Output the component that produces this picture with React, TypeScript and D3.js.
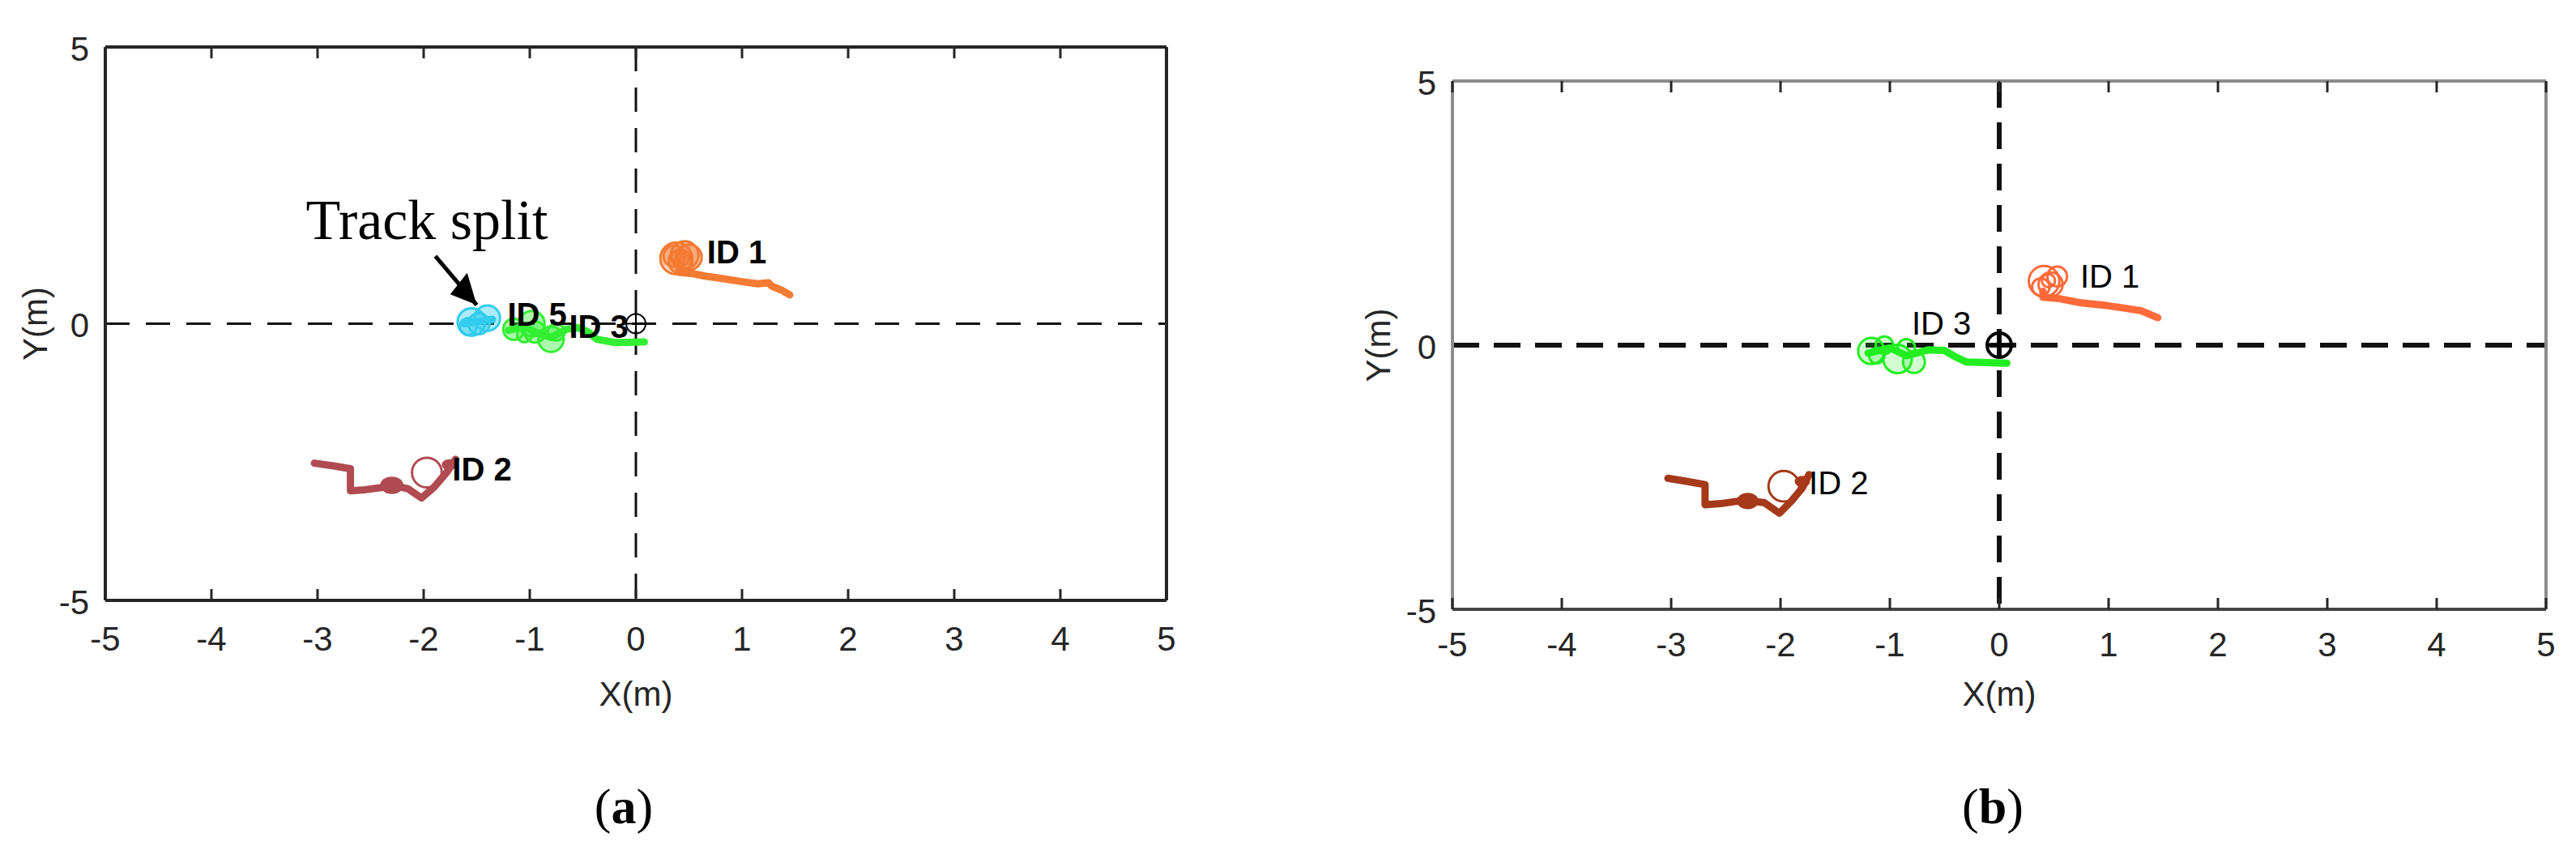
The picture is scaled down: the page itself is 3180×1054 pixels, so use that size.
import React, { useEffect } from "react";
import * as d3 from "d3";

// ---------- data (metres) ----------
const xTicks = [-5, -4, -3, -2, -1, 0, 1, 2, 3, 4, 5];
const yTicks = [-5, 0, 5];

// Panel (a)
const a_id1Path: [number, number][] = [[0.38, 1.12], [0.42, 1.02], [0.40, 0.93], [0.55, 0.90], [0.65, 0.86], [0.80, 0.82], [1.00, 0.76], [1.15, 0.72], [1.25, 0.74], [1.28, 0.68], [1.38, 0.60], [1.45, 0.52]];
const a_id1Circles: [number, number, number][] = [[0.38, 1.18, 0.15], [0.46, 1.24, 0.13], [0.42, 1.12, 0.11], [0.50, 1.20, 0.12], [0.36, 1.22, 0.1], [0.44, 1.18, 0.06]];
const a_id2Path: [number, number][] = [[-3.03, -2.52], [-2.85, -2.57], [-2.69, -2.62], [-2.69, -3.02], [-2.55, -3.0], [-2.40, -2.96], [-2.30, -2.92], [-2.15, -2.98], [-2.02, -3.15], [-1.90, -2.95], [-1.78, -2.68], [-1.70, -2.45]];
const a_id2Circles: [number, number, number][] = [[-1.97, -2.69, 0.14]];
const a_id2Blobs: [number, number, number][] = [[-2.30, -2.92, 0.11], [-1.76, -2.55, 0.07]];
const a_id3Path: [number, number][] = [[-1.20, -0.12], [-1.05, -0.05], [-0.95, -0.15], [-0.80, -0.25], [-0.65, -0.10], [-0.55, -0.07], [-0.45, -0.15], [-0.37, -0.28], [-0.20, -0.34], [0.08, -0.33]];
const a_id3Circles: [number, number, number][] = [[-1.15, -0.10, 0.1], [-0.98, 0.0, 0.12], [-0.95, -0.15, 0.1], [-0.80, -0.28, 0.12], [-0.75, -0.15, 0.08], [-1.05, -0.2, 0.07]];
const a_id5Path: [number, number][] = [[-1.62, 0.0], [-1.35, 0.08]];
const a_id5Circles: [number, number, number][] = [[-1.55, 0.03, 0.13], [-1.40, 0.10, 0.12], [-1.48, 0.0, 0.1], [-1.58, -0.05, 0.08]];

// Panel (b)
const b_id1Path: [number, number][] = [[0.40, 1.02], [0.40, 0.91], [0.55, 0.88], [0.75, 0.80], [0.98, 0.75], [1.15, 0.70], [1.30, 0.65], [1.45, 0.52]];
const b_id1Circles: [number, number, number][] = [[0.41, 1.21, 0.14], [0.53, 1.30, 0.09], [0.47, 1.15, 0.11], [0.38, 1.10, 0.08], [0.45, 1.22, 0.06]];
const b_id2Path: [number, number][] = [[-3.03, -2.52], [-2.85, -2.58], [-2.69, -2.64], [-2.69, -3.02], [-2.55, -3.0], [-2.38, -2.95], [-2.30, -2.95], [-2.15, -2.98], [-2.01, -3.18], [-1.90, -2.95], [-1.80, -2.70], [-1.74, -2.45]];
const b_id2Circles: [number, number, number][] = [[-1.97, -2.67, 0.14]];
const b_id2Blobs: [number, number, number][] = [[-2.30, -2.95, 0.1], [-1.80, -2.58, 0.07]];
const b_id3Path: [number, number][] = [[-1.20, -0.15], [-1.00, -0.05], [-0.85, -0.20], [-0.65, -0.09], [-0.50, -0.10], [-0.41, -0.21], [-0.30, -0.32], [0.07, -0.34]];
const b_id3Circles: [number, number, number][] = [[-1.17, -0.11, 0.12], [-1.05, 0.0, 0.08], [-0.93, -0.26, 0.13], [-0.78, -0.32, 0.1], [-0.85, -0.05, 0.08], [-1.12, -0.2, 0.07]];

// annotation (panel a, data coords)
const splitText: [number, number] = [-3.11, 1.53];
const arrowTail: [number, number] = [-1.89, 1.22];
const arrowTip: [number, number] = [-1.50, 0.34];
const arrowHead: [number, number][] = [[-1.75, 0.53], [-1.59, 0.92], [-1.50, 0.34]];

type Track = {
  path: [number, number][];
  circles: [number, number, number][];
  blobs?: [number, number, number][];
  color: string;
  label: string;
  labelAt: [number, number];
  openCircles?: boolean;
};

type PanelCfg = {
  left: number; right: number; top: number; bottom: number;
  tracks: Track[];
  bold: boolean;
  fillOp: number;
  frameColor: string;
  bottomColor: string;
  dash: string;
  dashW: number;
  originR: number;
  originW: number;
  tickLabelY: number;
  xLabelY: number;
  yLabelX: number;
  caption: string;
  captionX: number;
};

const FONT = "'Liberation Sans', Arial, Helvetica, sans-serif";

function Panel({ cfg, extra }: { cfg: PanelCfg; extra?: (x: any, y: any) => React.ReactNode }) {
  const x = d3.scaleLinear().domain([-5, 5]).range([cfg.left, cfg.right]);
  const y = d3.scaleLinear().domain([-5, 5]).range([cfg.bottom, cfg.top]);
  const line = d3.line<[number, number]>().x(d => x(d[0])).y(d => y(d[1])).curve(d3.curveLinear);
  const unit = x(1) - x(0);
  return (
    <g>
      {/* quadrant dashed lines */}
      <line x1={x(-5)} x2={x(5)} y1={y(0)} y2={y(0)} stroke="#111" strokeWidth={cfg.dashW} strokeDasharray={cfg.dash} />
      <line x1={x(0)} x2={x(0)} y1={y(5)} y2={y(-5)} stroke="#111" strokeWidth={cfg.dashW} strokeDasharray={cfg.dash} />
      {/* tracks */}
      {cfg.tracks.map((t, i) => (
        <g key={i}>
          <path d={line(t.path) || ""} fill="none" stroke={t.color} strokeWidth={9} strokeLinejoin="round" strokeLinecap="round" />
          {(t.blobs || []).map((c, j) => (
            <ellipse key={"b" + j} cx={x(c[0])} cy={y(c[1])} rx={c[2] * unit} ry={c[2] * unit * 0.75} fill={t.color} />
          ))}
          {t.circles.map((c, j) => (
            <circle key={j} cx={x(c[0])} cy={y(c[1])} r={c[2] * unit} fill={t.openCircles ? "none" : t.color} fillOpacity={cfg.fillOp} stroke={t.color} strokeWidth={3} />
          ))}
        </g>
      ))}
      {/* origin marker */}
      <g stroke="#000" strokeWidth={cfg.originW} fill="none">
        <circle cx={x(0)} cy={y(0)} r={cfg.originR} />
        <line x1={x(0) - cfg.originR} x2={x(0) + cfg.originR} y1={y(0)} y2={y(0)} />
        <line x1={x(0)} x2={x(0)} y1={y(0) - cfg.originR} y2={y(0) + cfg.originR} />
      </g>
      {/* labels */}
      {cfg.tracks.map((t, i) => (
        <text key={"l" + i} x={x(t.labelAt[0])} y={y(t.labelAt[1])} fontFamily={FONT} fontSize={40} fontWeight={cfg.bold ? "bold" : "normal"} fill="#000">{t.label}</text>
      ))}
      {/* frame */}
      <line x1={cfg.left} x2={cfg.right} y1={cfg.top} y2={cfg.top} stroke={cfg.frameColor} strokeWidth={4} />
      <line x1={cfg.left} x2={cfg.left} y1={cfg.top} y2={cfg.bottom} stroke={cfg.frameColor} strokeWidth={4} />
      <line x1={cfg.right} x2={cfg.right} y1={cfg.top} y2={cfg.bottom} stroke={cfg.frameColor} strokeWidth={4} />
      <line x1={cfg.left} x2={cfg.right} y1={cfg.bottom} y2={cfg.bottom} stroke={cfg.bottomColor} strokeWidth={4} />
      {/* ticks */}
      {xTicks.map(v => (
        <g key={"t" + v}>
          <line x1={x(v)} x2={x(v)} y1={cfg.top} y2={cfg.top + 14} stroke="#262626" strokeWidth={3} />
          <line x1={x(v)} x2={x(v)} y1={cfg.bottom} y2={cfg.bottom - 14} stroke="#262626" strokeWidth={3} />
          <text x={x(v)} y={cfg.tickLabelY} textAnchor="middle" dominantBaseline="central" fontFamily={FONT} fontSize={42} fill="#262626">{v}</text>
        </g>
      ))}
      {yTicks.map(v => (
        <text key={"y" + v} x={cfg.left - 20} y={y(v) + 2} textAnchor="end" dominantBaseline="central" fontFamily={FONT} fontSize={42} fill="#262626">{v}</text>
      ))}
      <text x={(cfg.left + cfg.right) / 2} y={cfg.xLabelY} textAnchor="middle" dominantBaseline="central" fontFamily={FONT} fontSize={42} fill="#262626">X(m)</text>
      <text transform={`translate(${cfg.yLabelX},${y(0)}) rotate(-90)`} textAnchor="middle" dominantBaseline="central" fontFamily={FONT} fontSize={42} fill="#262626">Y(m)</text>
      <text x={cfg.captionX} y={995} textAnchor="middle" dominantBaseline="central" fontFamily="'Liberation Serif', 'Times New Roman', serif" fontSize={62} fill="#000">
        (<tspan fontWeight="bold">{cfg.caption}</tspan>)
      </text>
      {extra && extra(x, y)}
    </g>
  );
}

const panelA: PanelCfg = {
  left: 130, right: 1440, top: 58, bottom: 741,
  tracks: [
    { path: a_id1Path, circles: a_id1Circles, color: "#F37B33", label: "ID 1", labelAt: [0.67, 1.09] },
    { path: a_id2Path, circles: a_id2Circles, blobs: a_id2Blobs, color: "#B04B52", label: "ID 2", labelAt: [-1.73, -2.83], openCircles: true },
    { path: a_id5Path, circles: a_id5Circles, color: "#33CCEE", label: "ID 5", labelAt: [-1.21, -0.04] },
    { path: a_id3Path, circles: a_id3Circles, color: "#33EE33", label: "ID 3", labelAt: [-0.63, -0.26] },
  ],
  bold: true,
  fillOp: 0.4,
  frameColor: "#262626",
  bottomColor: "#262626",
  dash: "30 20",
  dashW: 3,
  originR: 12,
  originW: 2,
  tickLabelY: 788,
  xLabelY: 856,
  yLabelX: 43,
  caption: "a",
  captionX: 770,
};

const panelB: PanelCfg = {
  left: 1793, right: 3143, top: 100, bottom: 752,
  tracks: [
    { path: b_id1Path, circles: b_id1Circles, color: "#FF6A3A", label: "ID 1", labelAt: [0.74, 1.09], openCircles: true },
    { path: b_id2Path, circles: b_id2Circles, blobs: b_id2Blobs, color: "#A5391A", label: "ID 2", labelAt: [-1.74, -2.82], openCircles: true },
    { path: b_id3Path, circles: b_id3Circles, color: "#22EE22", label: "ID 3", labelAt: [-0.80, 0.2] },
  ],
  bold: false,
  fillOp: 0.2,
  frameColor: "#8c8c8c",
  bottomColor: "#444",
  dash: "33 18",
  dashW: 6,
  originR: 15,
  originW: 4,
  tickLabelY: 795,
  xLabelY: 856,
  yLabelX: 1701,
  caption: "b",
  captionX: 2460,
};

export default function App() {
  useEffect(() => {
    document.body.style.margin = "0";
  }, []);
  return (
    <svg width={3180} height={1054} style={{ position: "absolute", left: 0, top: 0, background: "#fff" }}>
      <rect x={0} y={0} width={3180} height={1054} fill="#fff" />
      <Panel cfg={panelA} extra={(x, y) => (
        <g>
          <text x={x(splitText[0])} y={y(splitText[1])} fontFamily="'Liberation Serif', 'Times New Roman', serif" fontSize={70} fill="#000">Track split</text>
          <line x1={x(arrowTail[0])} y1={y(arrowTail[1])} x2={x(arrowTip[0])} y2={y(arrowTip[1])} stroke="#000" strokeWidth={5} />
          <polygon points={arrowHead.map(p => `${x(p[0])},${y(p[1])}`).join(" ")} fill="#000" />
        </g>
      )} />
      <Panel cfg={panelB} />
    </svg>
  );
}
